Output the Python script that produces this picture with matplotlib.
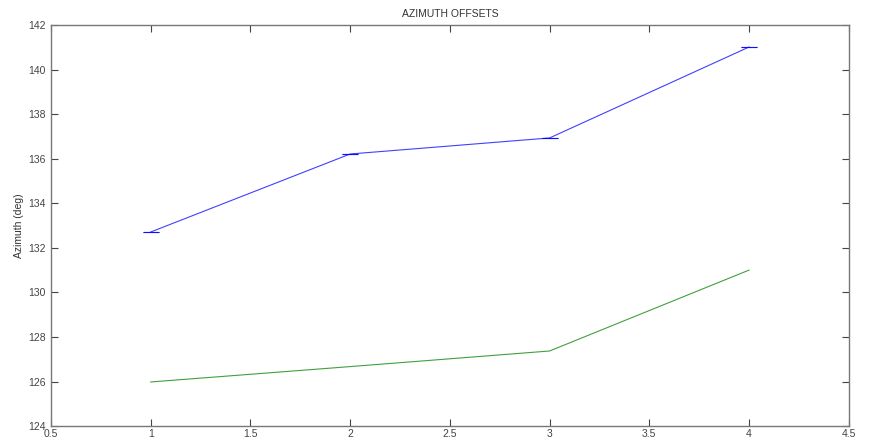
import matplotlib
matplotlib.use("Agg")
import matplotlib.pyplot as plt

plt.rcParams['font.family'] = ['Liberation Sans', 'DejaVu Sans']

x = [1, 2, 3, 4]
blue = [132.71, 136.21, 136.93, 141.01]
blue_err = [0.005, 0.005, 0.005, 0.005]
green = [125.98, 126.67, 127.37, 131.0]
xticks = [0.5, 1, 1.5, 2, 2.5, 3, 3.5, 4, 4.5]
yticks = list(range(124, 143, 2))

fig = plt.figure(figsize=(8.69, 4.42), dpi=100)
ax = fig.add_axes([0.0587, 0.036, 0.918, 0.9075])
ax.errorbar(x, blue, yerr=blue_err, color='#0000ff', lw=0.8, capsize=6, elinewidth=0.8, capthick=0.8, alpha=0.75)
ax.plot(x, green, color='#008000', lw=0.8, alpha=0.75)
ax.set_xlim(0.5, 4.5)
ax.set_ylim(124, 142)
ax.set_xticks(xticks)
ax.set_xticklabels([f"{t:g}" for t in xticks])
ax.set_yticks(yticks)
ax.tick_params(axis='x', direction='in', top=True, labelsize=7.5, colors='#444444', length=5, width=0.8, pad=2)
ax.tick_params(axis='y', direction='in', right=True, labelsize=7.5, colors='#444444', length=5, width=0.8, pad=4)
for s in ax.spines.values():
    s.set_color('#777777')
    s.set_linewidth(1.0)
ax.set_title('AZIMUTH OFFSETS', fontsize=7.5, color='#333333', pad=6)
ax.set_ylabel('Azimuth (deg)', fontsize=7.5, color='#333333', labelpad=3)
fig.savefig('out.png', dpi=100)
